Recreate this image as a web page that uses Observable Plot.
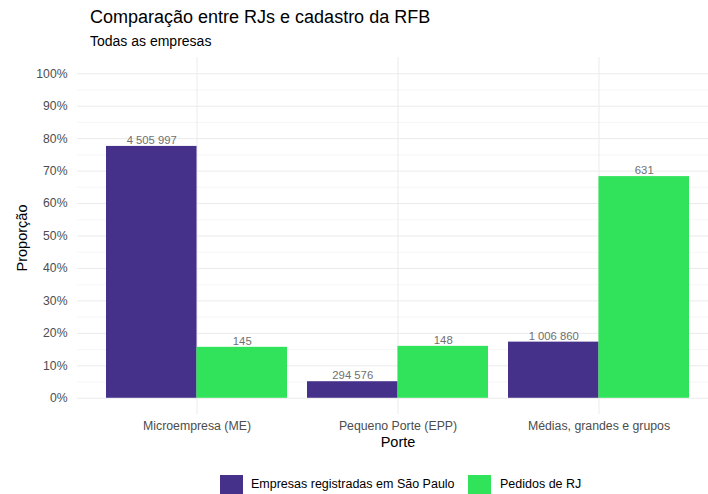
<!DOCTYPE html>
<html><head><meta charset="utf-8">
<script src="https://cdn.jsdelivr.net/npm/d3@7"></script>
<script src="https://cdn.jsdelivr.net/npm/@observablehq/plot@0.6"></script>
<style>
body{margin:0;background:#fff;font-family:"Liberation Sans",Arial,sans-serif;}
#wrap{position:relative;width:708px;height:494px;}
#title{position:absolute;left:90px;top:7px;font-size:18px;color:#000;}
#subtitle{position:absolute;left:90px;top:33px;font-size:14px;color:#000;}
#ylab{position:absolute;left:22px;top:238px;font-size:14.5px;color:#000;white-space:nowrap;transform:translate(-50%,-50%) rotate(-90deg);}
#chart{position:absolute;left:0;top:56px;}
#legend{position:absolute;left:0;top:475px;width:708px;height:20px;font-size:12.5px;color:#000;}
.sw{position:absolute;top:0;width:23px;height:20px;}
.lt{position:absolute;top:2px;}
</style></head>
<body><div id="wrap">
<div id="title">Comparação entre RJs e cadastro da RFB</div>
<div id="subtitle">Todas as empresas</div>
<div id="chart"></div>
<div id="ylab">Proporção</div>
<div id="legend"></div>
</div>
<script>
const categories = ["Microempresa (ME)", "Pequeno Porte (EPP)", "Médias, grandes e grupos"];
const series = ["Empresas registradas em São Paulo", "Pedidos de RJ"];
const colors = ["#45318a", "#30e35a"];
const spCounts = [4505997, 294576, 1006860];
const spShare = [0.776, 0.051, 0.173];
const rjCounts = [145, 148, 631];
const rjShare = [0.157, 0.160, 0.683];
const yTicks = [0, 0.1, 0.2, 0.3, 0.4, 0.5, 0.6, 0.7, 0.8, 0.9, 1.0];
const yMinor = [0.05, 0.15, 0.25, 0.35, 0.45, 0.55, 0.65, 0.75, 0.85, 0.95];

const sp = categories.map((c, i) => ({cat: c, v: spShare[i], n: spCounts[i]}));
const rj = categories.map((c, i) => ({cat: c, v: rjShare[i], n: rjCounts[i]}));
const fmt = n => d3.format(",")(n).replace(/,/g, " ");
const half = 181 / 4;

const plot = Plot.plot({
  width: 708, height: 400,
  marginLeft: 77, marginRight: 0, marginTop: 0, marginBottom: 42,
  style: {fontFamily: "Liberation Sans, Arial, sans-serif", background: "#fff"},
  x: {type: "band", domain: categories, range: [95.5, 698.5], paddingInner: 0.1, paddingOuter: 0.05, label: null},
  y: {domain: [-0.05, 1.05], range: [358, 1], label: null},
  marks: [
    Plot.ruleY(yMinor, {stroke: "#f0f0f0", strokeWidth: 0.6}),
    Plot.ruleY(yTicks, {stroke: "#ebebeb", strokeWidth: 1}),
    Plot.ruleX(categories, {x: d => d, y1: -0.05, y2: 1.05, stroke: "#ebebeb", strokeWidth: 1}),
    Plot.barY(sp, {x: "cat", y: "v", fill: colors[0], insetLeft: 0, insetTop: 0, insetBottom: 0, insetRight: 90.45}),
    Plot.barY(rj, {x: "cat", y: "v", fill: colors[1], insetRight: 0, insetTop: 0, insetBottom: 0, insetLeft: 90.45}),
    Plot.text(sp, {x: "cat", y: "v", text: d => fmt(d.n), dx: -half, dy: -6, fill: "#707070", fontSize: 11.3}),
    Plot.text(rj, {x: "cat", y: "v", text: d => fmt(d.n), dx: half, dy: -6, fill: "#707070", fontSize: 11.3}),
    Plot.axisY(yTicks, {tickSize: 0, tickPadding: 10, tickFormat: d3.format(".0%"), fontSize: 12.2, fill: "#4d4d4d", label: null}),
    Plot.axisX({tickSize: 0, tickPadding: 7, fontSize: 12.3, fill: "#4d4d4d", label: null}),
    Plot.text(["Porte"], {x: () => categories[1], y: -0.05, dy: 28, fontSize: 14.5, fill: "#000"})
  ]
});
document.getElementById("chart").appendChild(plot);

const leg = document.getElementById("legend");
const pos = [[220, 251], [468, 500]];
series.forEach((s, i) => {
  const sw = document.createElement("div");
  sw.className = "sw"; sw.style.left = pos[i][0] + "px"; sw.style.background = colors[i];
  leg.appendChild(sw);
  const t = document.createElement("div");
  t.className = "lt"; t.style.left = pos[i][1] + "px"; t.textContent = s;
  leg.appendChild(t);
});
</script>
</body></html>
